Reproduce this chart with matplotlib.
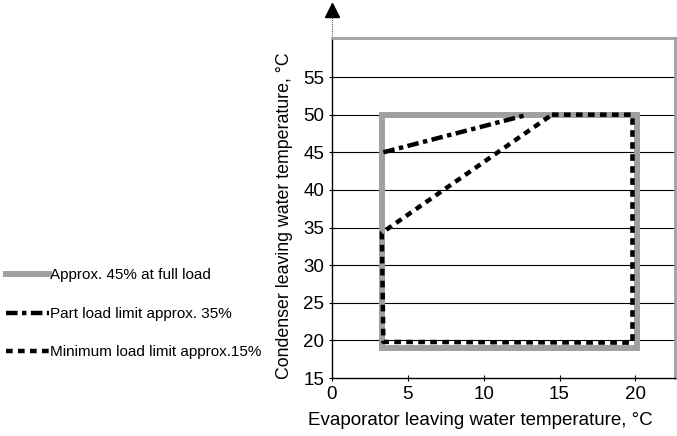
import matplotlib.pyplot as plt

plt.rcParams['font.family'] = ['Liberation Sans', 'DejaVu Sans']

# envelope data
full_x = [3.3, 3.3, 20.1, 20.1, 3.3]
full_y = [19.0, 50.0, 50.0, 19.0, 19.0]
part_x = [3.4, 12.9]
part_y = [45.0, 50.0]
min_x = [14.5, 19.8, 19.8, 3.4, 3.3, 14.5]
min_y = [50.0, 50.0, 19.7, 19.8, 34.3, 50.0]

labels = ['Approx. 45% at full load',
          'Part load limit approx. 35%',
          'Minimum load limit approx.15%']
xticks = [0, 5, 10, 15, 20]
yticks = [15, 20, 25, 30, 35, 40, 45, 50, 55]

grey = '#a0a0a0'

fig = plt.figure(figsize=(6.77, 4.36), dpi=100)
ax = fig.add_axes([0.49, 0.133, 0.507, 0.78])

for y in yticks[1:]:
    ax.axhline(y, color='black', lw=0.8, zorder=1)

l1, = ax.plot(full_x, full_y, color=grey, lw=4.3, solid_joinstyle='miter', zorder=2)
l2, = ax.plot(part_x, part_y, color='black', lw=3.2, linestyle=(0, (2.6, 1.0, 1.0, 1.0)), zorder=3)
l3, = ax.plot(min_x, min_y, color='black', lw=3.2, linestyle=(0, (1.5, 1.2)), zorder=3)

ax.set_xlim(0, 22.6)
ax.set_ylim(15, 60.2)
ax.set_xticks(xticks)
ax.set_yticks(yticks)
ax.tick_params(direction='inout', length=5, width=0.8, labelsize=13.5, pad=3)

ax.spines['top'].set_color(grey)
ax.spines['right'].set_color(grey)
ax.spines['top'].set_linewidth(2)
ax.spines['right'].set_linewidth(2)
ax.spines['left'].set_linewidth(1)
ax.spines['bottom'].set_linewidth(1)

# dotted arrow on top of the y axis
ax.plot([0, 0], [60.2, 63.2], color='black', lw=0.6, linestyle=':', clip_on=False)
ax.plot([0], [63.9], marker='^', color='black', ms=10, clip_on=False)

ax.set_xlabel('Evaporator leaving water temperature, °C', fontsize=13.5)
ax.set_ylabel('Condenser leaving water temperature, °C', fontsize=12.8)
ax.xaxis.set_label_coords(0.433, -0.1)
ax.yaxis.set_label_coords(-0.113, 0.476)

fig.legend([l1, l2, l3], labels, loc='center left', bbox_to_anchor=(0.0, 0.28),
           frameon=False, fontsize=11, handlelength=2.8, handletextpad=0.1,
           labelspacing=1.6, borderaxespad=0)

fig.savefig('out.png', dpi=100)
